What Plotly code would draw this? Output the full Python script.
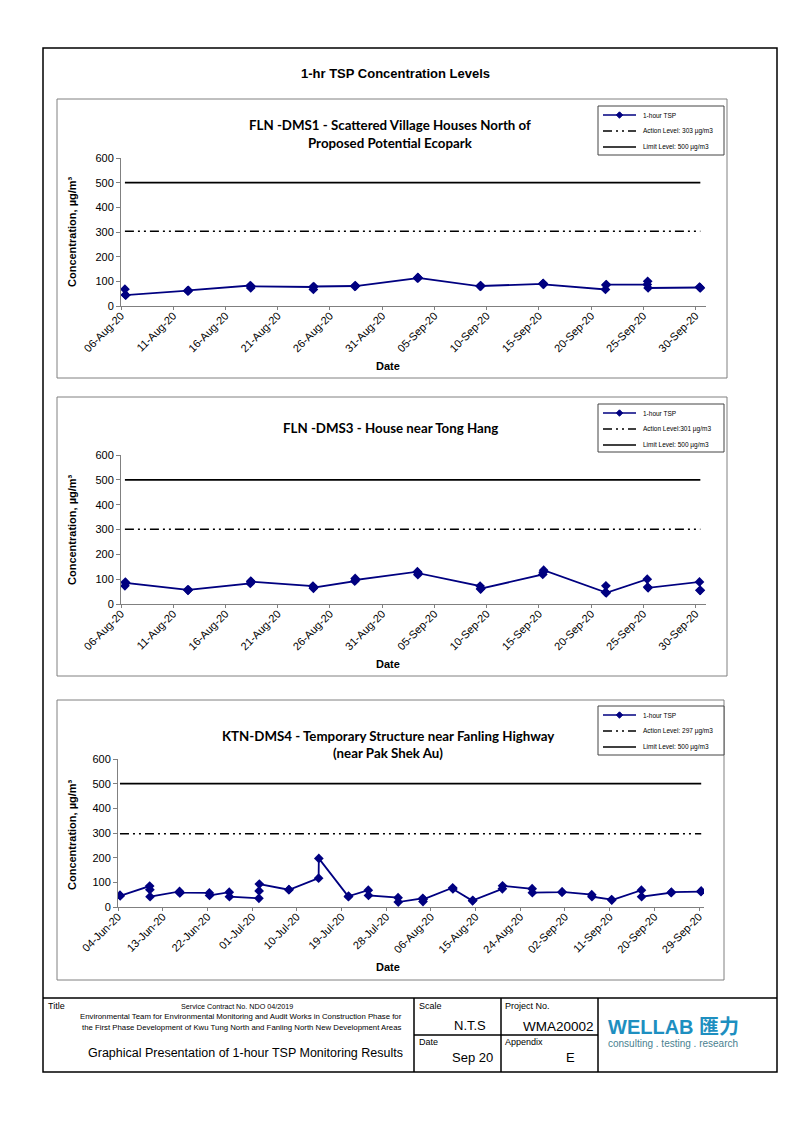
import plotly.graph_objects as go

W, H = 793, 1122


def px(x):
    return x / W


def py(y):
    return 1 - y / H


# ---------------- DATA ----------------
dms1_times = [
    "2020-08-06 09:00", "2020-08-06 10:00", "2020-08-06 11:00",
    "2020-08-12 09:00", "2020-08-12 10:00", "2020-08-12 11:00",
    "2020-08-18 09:00", "2020-08-18 10:00", "2020-08-18 11:00",
    "2020-08-24 09:00", "2020-08-24 10:00", "2020-08-24 11:00",
    "2020-08-28 09:00", "2020-08-28 10:00", "2020-08-28 11:00",
    "2020-09-03 09:00", "2020-09-03 10:00", "2020-09-03 11:00",
    "2020-09-09 09:00", "2020-09-09 10:00", "2020-09-09 11:00",
    "2020-09-15 09:00", "2020-09-15 10:00", "2020-09-15 11:00",
    "2020-09-21 09:00", "2020-09-21 10:00", "2020-09-21 11:00",
    "2020-09-25 09:00", "2020-09-25 10:00", "2020-09-25 11:00",
    "2020-09-30 09:00", "2020-09-30 10:00", "2020-09-30 11:00",
]
dms1_tsp = [68, 45, 44, 62, 60, 63, 83, 73, 80, 77, 67, 79, 80, 83, 81,
            113, 116, 114, 80, 83, 81, 90, 92, 88, 67, 85, 87, 87, 100, 73,
            77, 75, 73]
dms1_action = 303
dms1_limit = 500

dms3_times = dms1_times
dms3_tsp = [73, 88, 85, 57, 55, 57, 83, 92, 90, 72, 63, 66, 92, 103, 97,
            130, 118, 124, 72, 60, 62, 119, 128, 136, 47, 73, 45, 100, 68, 65,
            89, 55, 55]
dms3_action = 301
dms3_limit = 500

dms4_times = [
    "2020-06-04 09:30", "2020-06-04 10:30",
    "2020-06-10 09:00", "2020-06-10 10:00", "2020-06-10 11:00",
    "2020-06-16 09:30", "2020-06-16 10:30", "2020-06-16 11:30",
    "2020-06-22 09:30", "2020-06-22 10:30",
    "2020-06-26 09:30", "2020-06-26 10:30",
    "2020-07-02 09:00", "2020-07-02 10:00", "2020-07-02 11:00",
    "2020-07-08 09:30", "2020-07-08 10:30",
    "2020-07-14 09:30", "2020-07-14 10:30",
    "2020-07-20 09:30", "2020-07-20 10:30",
    "2020-07-24 09:30", "2020-07-24 10:30",
    "2020-07-30 09:30", "2020-07-30 10:30",
    "2020-08-04 09:00", "2020-08-04 10:00", "2020-08-04 11:00",
    "2020-08-10 09:30", "2020-08-10 10:30",
    "2020-08-14 09:30", "2020-08-14 10:30",
    "2020-08-20 09:30", "2020-08-20 10:30",
    "2020-08-26 09:30", "2020-08-26 10:30",
    "2020-09-01 09:30", "2020-09-01 10:30",
    "2020-09-07 09:30", "2020-09-07 10:30",
    "2020-09-11 09:30", "2020-09-11 10:30",
    "2020-09-17 09:30", "2020-09-17 10:30",
    "2020-09-23 09:30", "2020-09-23 10:30",
    "2020-09-29 09:30", "2020-09-29 10:30",
]
dms4_tsp = [48, 45, 85, 70, 42, 63, 57, 58, 57, 47, 60, 42, 35, 65, 93,
            70, 70, 117, 197, 42, 44, 68, 47, 38, 20, 35, 22, 31, 78, 73,
            25, 27, 74, 86, 74, 58, 60, 61, 50, 42, 30, 28, 68, 42, 58, 60,
            62, 65]
dms4_action = 297
dms4_limit = 500

ticks_aug_sep = ["2020-08-06", "2020-08-11", "2020-08-16", "2020-08-21",
                 "2020-08-26", "2020-08-31", "2020-09-05", "2020-09-10",
                 "2020-09-15", "2020-09-20", "2020-09-25", "2020-09-30"]
ticks_jun_sep = ["2020-06-04", "2020-06-13", "2020-06-22", "2020-07-01",
                 "2020-07-10", "2020-07-19", "2020-07-28", "2020-08-06",
                 "2020-08-15", "2020-08-24", "2020-09-02", "2020-09-11",
                 "2020-09-20", "2020-09-29"]
y_ticks = [0, 100, 200, 300, 400, 500, 600]

# ---------------- STYLE ----------------
NAVY = "#000080"
AX = "#808080"
ARIAL = "Liberation Sans, Arial, sans-serif"
CAL = "Lato, Carlito, sans-serif"
DASHDOTDOT = "9px,4px,2px,4px,2px,4px"

charts = [
    dict(times=dms1_times, tsp=dms1_tsp, action=dms1_action, limit=dms1_limit,
         action_name="Action Level: 303 µg/m3", ticks=ticks_aug_sep,
         xrange=["2020-08-06", "2020-10-01"],
         xdom=(121, 706), ydom=(158, 306), panel=(57, 99, 727, 378),
         titles=[("FLN -DMS1 - Scattered Village Houses North of", 125),
                 ("Proposed Potential Ecopark", 143)],
         title_x=390, ytitle_y=232, xtitle_y=366,
         legend_box=(598, 106, 724, 155)),
    dict(times=dms3_times, tsp=dms3_tsp, action=dms3_action, limit=dms3_limit,
         action_name="Action Level:301 µg/m3", ticks=ticks_aug_sep,
         xrange=["2020-08-06", "2020-10-01"],
         xdom=(121, 706), ydom=(455, 604), panel=(57, 397, 727, 676),
         titles=[("FLN -DMS3 - House near Tong Hang", 428)],
         title_x=390, ytitle_y=530, xtitle_y=664,
         legend_box=(598, 404, 724, 452)),
    dict(times=dms4_times, tsp=dms4_tsp, action=dms4_action, limit=dms4_limit,
         action_name="Action Level: 297 µg/m3", ticks=ticks_jun_sep,
         xrange=["2020-06-04", "2020-09-30"],
         xdom=(118, 704), ydom=(759, 907), panel=(57, 700, 724, 980),
         titles=[("KTN-DMS4 - Temporary Structure near Fanling Highway", 736),
                 ("(near Pak Shek Au)", 753)],
         title_x=388, ytitle_y=835, xtitle_y=967,
         legend_box=(598, 706, 724, 755)),
]

fig = go.Figure()
annotations = []
shapes = []


def txt(s, x, y, size, anchor="left", color="black", family=ARIAL,
        weight="normal", angle=0):
    annotations.append(dict(text=s, x=px(x), y=py(y), xref="paper", yref="paper",
                            showarrow=False, xanchor=anchor, yanchor="middle",
                            textangle=angle,
                            font=dict(family=family, size=size, color=color,
                                      weight=weight)))


def hline(x0, x1, y, color, width, dash="solid"):
    shapes.append(dict(type="line", xref="paper", yref="paper",
                       x0=px(x0), x1=px(x1), y0=py(y), y1=py(y),
                       line=dict(color=color, width=width, dash=dash)))


for i, c in enumerate(charts, start=1):
    sfx = "" if i == 1 else str(i)
    xa = "x" + sfx
    ya = "y" + sfx
    fig.add_trace(go.Scatter(
        x=c["times"], y=c["tsp"], mode="lines+markers", name="1-hour TSP",
        line=dict(color=NAVY, width=1.8),
        marker=dict(symbol="diamond", size=7.5, color=NAVY),
        xaxis=xa, yaxis=ya, showlegend=False))
    fig.add_trace(go.Scatter(
        x=[c["times"][0], c["times"][-1]], y=[c["action"], c["action"]],
        mode="lines", name=c["action_name"],
        line=dict(color="black", width=1.5, dash=DASHDOTDOT),
        xaxis=xa, yaxis=ya, showlegend=False))
    fig.add_trace(go.Scatter(
        x=[c["times"][0], c["times"][-1]], y=[c["limit"], c["limit"]],
        mode="lines", name="Limit Level: 500 µg/m3",
        line=dict(color="black", width=1.8),
        xaxis=xa, yaxis=ya, showlegend=False))

    x0, x1 = c["xdom"]
    ytop, ybot = c["ydom"]
    fig.update_layout(**{
        "xaxis" + sfx: dict(
            domain=[px(x0), px(x1)], anchor=ya, type="date", automargin=False,
            range=c["xrange"], tickvals=c["ticks"], tickformat="%d-%b-%y",
            tickangle=-45, ticks="outside", ticklen=3, tickcolor=AX,
            ticklabelstandoff=-5,
            showline=True, linecolor=AX, linewidth=1, showgrid=False,
            zeroline=False, tickfont=dict(family=ARIAL, size=11, color="black")),
        "yaxis" + sfx: dict(
            domain=[py(ybot), py(ytop)], anchor=xa, range=[0, 600],
            automargin=False,
            tickvals=y_ticks, ticks="outside", ticklen=4, tickcolor=AX,
            showline=True, linecolor=AX, linewidth=1, showgrid=False,
            zeroline=False, tickfont=dict(family=ARIAL, size=11, color="black")),
    })

    # panel border
    l, t, r, b = c["panel"]
    shapes.append(dict(type="rect", xref="paper", yref="paper",
                       x0=px(l), x1=px(r), y0=py(b), y1=py(t),
                       line=dict(color=AX, width=1)))
    # legend box (drawn)
    lx0, ly0, lx1, ly1 = c["legend_box"]
    shapes.append(dict(type="rect", xref="paper", yref="paper",
                       x0=px(lx0), x1=px(lx1), y0=py(ly1), y1=py(ly0),
                       line=dict(color="#444444", width=1), fillcolor="white"))
    rows = [ly0 + 9, ly0 + 25, ly0 + 41]
    hline(lx0 + 5, lx0 + 38, rows[0], NAVY, 1.5)
    cx, cy = px(lx0 + 21.5), py(rows[0])
    dx, dy = 3.2 / W, 3.2 / H
    shapes.append(dict(type="path", xref="paper", yref="paper",
                       path=f"M {cx-dx},{cy} L {cx},{cy+dy} L {cx+dx},{cy} L {cx},{cy-dy} Z",
                       fillcolor=NAVY, line=dict(color=NAVY, width=1)))
    hline(lx0 + 5, lx0 + 38, rows[1], "black", 1.5, DASHDOTDOT)
    hline(lx0 + 5, lx0 + 38, rows[2], "black", 1.5)
    txt("1-hour TSP", lx0 + 43, rows[0], 6.5)
    txt(c["action_name"], lx0 + 43, rows[1], 6.5)
    txt("Limit Level: 500 µg/m3", lx0 + 43, rows[2], 6.5)

    # chart title lines
    for line_text, ly in c["titles"]:
        txt(line_text, c["title_x"], ly, 13.3, "center", family=CAL,
            weight="bold")
    # y title
    txt("Concentration, µg/m³", 72, c["ytitle_y"], 11, "center",
        weight="bold", angle=-90)
    # x title
    txt("Date", 388, c["xtitle_y"], 11, "center", weight="bold")

# main title
txt("1-hr TSP Concentration Levels", 395, 73, 13, "center", weight="bold")

# outer frame & footer table
shapes.append(dict(type="rect", xref="paper", yref="paper", x0=px(43), x1=px(777),
                   y0=py(1072), y1=py(48), line=dict(color="black", width=1.5)))
for (xa0, ya0, xa1, ya1) in [(43, 998, 777, 998), (414, 998, 414, 1072),
                             (501, 998, 501, 1072), (598, 998, 598, 1072),
                             (414, 1035, 598, 1035)]:
    shapes.append(dict(type="line", xref="paper", yref="paper",
                       x0=px(xa0), x1=px(xa1), y0=py(ya0), y1=py(ya1),
                       line=dict(color="black", width=1.5)))

txt("Title", 46, 1006, 9)
txt("Service Contract No. NDO 04/2019", 237, 1006, 7.2, "center")
txt("Environmental Team for Environmental Monitoring and Audit Works in Construction Phase for",
    404, 1016, 7.8, "right")
txt("the First Phase Development of Kwu Tung North and Fanling North New Development Areas",
    404, 1027, 7.8, "right")
txt("Graphical Presentation of 1-hour TSP Monitoring Results", 245, 1053, 12.5, "center")
txt("Scale", 417, 1006, 9)
txt("N.T.S", 470, 1025, 13, "center")
txt("Project No.", 503, 1006, 9)
txt("WMA20002", 596, 1026, 13.5, "right")
txt("Date", 417, 1042, 9)
txt("Sep 20", 473, 1057, 13, "center")
txt("Appendix", 503, 1042, 9)
txt("E", 570, 1057, 13, "center")
txt("WELLAB 匯力", 673, 1027, 20, "center", "#1e8fc0",
    "Liberation Sans, Noto Sans CJK TC, sans-serif", weight="bold")
txt("consulting . testing . research", 673, 1043, 10, "center", "#4a7f90")

fig.update_layout(width=W, height=H,
                  margin=dict(l=0, r=0, t=0, b=0, pad=0, autoexpand=False),
                  paper_bgcolor="white", plot_bgcolor="white",
                  showlegend=False, shapes=shapes, annotations=annotations)

fig.write_html("out.html", config={"displayModeBar": False},
               post_script="document.body.style.margin='0px';"
                           "document.body.style.overflow='hidden';")
